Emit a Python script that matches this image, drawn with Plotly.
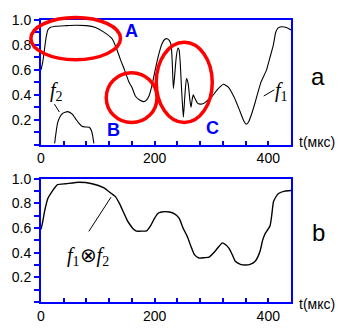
import plotly.graph_objects as go
from plotly.subplots import make_subplots

# Signal f1 (upper panel)
t_f1 = [0, 3, 6, 9, 12, 16, 25, 45, 61, 80, 96, 110, 125, 133, 140, 147, 155, 160, 166,
        173, 181, 186, 190, 195, 201, 207, 213, 218, 222, 226, 229, 231, 233, 235, 238,
        241, 243, 245, 247, 249, 250.6, 253, 256, 259, 262, 264, 266, 268, 271, 275,
        280, 286, 293, 300, 310, 321, 330, 340, 350, 357, 361, 365, 371, 377, 387, 397,
        403, 409, 413, 417, 423, 432, 440]
v_f1 = [0.60, 0.66, 0.76, 0.86, 0.92, 0.94, 0.95, 0.955, 0.958, 0.955, 0.94, 0.905, 0.85,
        0.77, 0.68, 0.60, 0.50, 0.46, 0.39, 0.36, 0.345, 0.36, 0.39, 0.47, 0.60, 0.72,
        0.81, 0.845, 0.85, 0.835, 0.80, 0.66, 0.45, 0.54, 0.70, 0.775, 0.76, 0.66, 0.48,
        0.32, 0.22, 0.38, 0.53, 0.49, 0.36, 0.30, 0.36, 0.40, 0.37, 0.335, 0.325, 0.33,
        0.355, 0.38, 0.44, 0.485, 0.46, 0.38, 0.27, 0.19, 0.164, 0.18, 0.25, 0.34, 0.50,
        0.60, 0.70, 0.80, 0.90, 0.935, 0.946, 0.94, 0.92]

# Signal f2 (upper panel)
t_f2 = [24, 26, 29, 33, 38, 47, 55, 62, 67, 72, 78, 85, 89, 91, 93]
v_f2 = [0.01, 0.08, 0.17, 0.22, 0.25, 0.265, 0.245, 0.20, 0.17, 0.148, 0.142, 0.14,
        0.11, 0.07, 0.01]

# Convolution f1 (x) f2 (lower panel)
t_conv = [0, 3, 6, 9, 12, 20, 29, 44, 67, 90, 110, 124, 131, 138, 145, 152, 157, 162,
          168, 178, 186, 193, 200, 206, 212, 218, 226, 235, 243, 250, 258, 264, 270, 278,
          288, 296, 306, 313, 319, 325, 331, 337, 342, 351, 359, 368, 377, 382, 386, 390,
          394, 403, 406, 409, 413, 418, 429, 440]
v_conv = [0.59, 0.65, 0.73, 0.79, 0.84, 0.90, 0.952, 0.96, 0.972, 0.96, 0.928, 0.88,
          0.855, 0.80, 0.73, 0.66, 0.625, 0.595, 0.575, 0.575, 0.578, 0.62, 0.68, 0.72,
          0.73, 0.733, 0.73, 0.715, 0.68, 0.60, 0.526, 0.45, 0.384, 0.357, 0.36, 0.365,
          0.41, 0.45, 0.48, 0.465, 0.435, 0.38, 0.33, 0.306, 0.30, 0.305, 0.33, 0.37,
          0.42, 0.50, 0.55, 0.617, 0.70, 0.81, 0.85, 0.88, 0.90, 0.905]

x_range = [0, 440]
x_ticks = [0, 200, 400]
y_ticks = [0.2, 0.4, 0.6, 0.8, 1.0]
y_ticktext = ["0.2", "0.4", "0.6", "0.8", "1.0"]

BLUE = "#0000ff"
RED = "#ff0000"
TICKFONT = dict(family="Liberation Sans, Arial, sans-serif", size=14, color="black")
SERIF = "Liberation Serif, Times New Roman, serif"

fig = make_subplots(rows=2, cols=1, vertical_spacing=0.12)
fig.add_trace(go.Scatter(x=t_f1, y=v_f1, mode="lines",
                         line=dict(color="black", width=1.1, shape="spline", smoothing=0.5)),
              row=1, col=1)
fig.add_trace(go.Scatter(x=t_f2, y=v_f2, mode="lines",
                         line=dict(color="black", width=1.1, shape="spline", smoothing=0.5)),
              row=1, col=1)
fig.add_trace(go.Scatter(x=t_conv, y=v_conv, mode="lines",
                         line=dict(color="black", width=1.4, shape="spline", smoothing=0.5)),
              row=2, col=1)

axis_common = dict(showline=True, mirror=True, linecolor=BLUE, linewidth=2,
                   showgrid=False, zeroline=False, tickfont=TICKFONT)
for r in (1, 2):
    fig.update_xaxes(range=x_range, tickvals=x_ticks, ticks="inside", ticklen=4,
                     tickcolor=BLUE, tickwidth=1.5,
                     minor=dict(tick0=0, dtick=40, ticks="inside", ticklen=4,
                                tickcolor=BLUE, tickwidth=1.5),
                     **axis_common, row=r, col=1)
    fig.update_yaxes(range=[0, 1.0], tickvals=y_ticks, ticktext=y_ticktext,
                     ticks="outside", ticklen=5, tickcolor=BLUE, tickwidth=1.5,
                     minor=dict(tick0=0, dtick=0.1, ticks="outside", ticklen=5,
                                tickcolor=BLUE, tickwidth=1.5),
                     **axis_common, row=r, col=1)

fig.update_layout(
    width=348, height=336, margin=dict(l=38, r=57, t=14, b=28),
    paper_bgcolor="white", plot_bgcolor="white", showlegend=False,
)
fig.update_layout(yaxis=dict(domain=[0.558, 1.0]), yaxis2=dict(domain=[0.0, 0.437]))

# Highlighted regions on the upper panel
ellipses = [(-0.0405, 0.682, 0.318, 1.02), (0.261, 0.177, 0.464, 0.577),
            (0.461, 0.177, 0.685, 0.821)]
for x0, y0, x1, y1 in ellipses:
    fig.add_shape(type="circle", xref="x domain", yref="y domain",
                  x0=x0, y0=y0, x1=x1, y1=y1, line=dict(color=RED, width=3.5))

# Leader lines for curve labels
leaders = [("x", "y", 23.6, 0.325, 32.3, 0.262),
           ("x", "y", 392, 0.39, 410.6, 0.44),
           ("x2", "y2", 84.2, 0.573, 123.1, 0.85)]
for xr, yr, xa, ya, xb, yb in leaders:
    fig.add_shape(type="line", xref=xr, yref=yr, x0=xa, y0=ya, x1=xb, y1=yb,
                  line=dict(color="black", width=1))

letter_font = dict(family="Liberation Sans, Arial, sans-serif", size=18, color=BLUE)
for txt, x, y in [("A", 160, 0.908), ("B", 128.4, 0.121), ("C", 302.7, 0.131)]:
    fig.add_annotation(text="<b>%s</b>" % txt, x=x, y=y, xref="x", yref="y",
                       xanchor="center", yanchor="middle",
                       showarrow=False, font=letter_font)

serif_font = dict(family=SERIF, size=20, color="black")
fig.add_annotation(text="<i>f</i><sub>2</sub>", x=27, y=0.43, xref="x", yref="y",
                   xanchor="center", yanchor="middle", showarrow=False, font=serif_font)
fig.add_annotation(text="<i>f</i><sub>1</sub>", x=424, y=0.43, xref="x", yref="y",
                   xanchor="center", yanchor="middle", showarrow=False, font=serif_font)
fig.add_annotation(text="<i>f</i><sub>1</sub>\u2297<i>f</i><sub>2</sub>", x=82, y=0.37,
                   xref="x2", yref="y2", xanchor="center", yanchor="middle",
                   showarrow=False, font=serif_font)

side_font = dict(family="Liberation Sans, Arial, sans-serif", size=24, color="black")
fig.add_annotation(text="a", x=1.107, y=0.80, xref="paper", yref="paper",
                   xanchor="center", yanchor="middle", showarrow=False, font=side_font)
fig.add_annotation(text="b", x=1.111, y=0.245, xref="paper", yref="paper",
                   xanchor="center", yanchor="middle", showarrow=False, font=side_font)
unit_font = dict(family="Liberation Sans, Arial, sans-serif", size=14, color="black")
for yy in (0.566, -0.006):
    fig.add_annotation(text="t(мкс)", x=1.105, y=yy, xref="paper", yref="paper",
                       xanchor="center", yanchor="middle",
                       showarrow=False, font=unit_font)

fig.write_html("out.html")
